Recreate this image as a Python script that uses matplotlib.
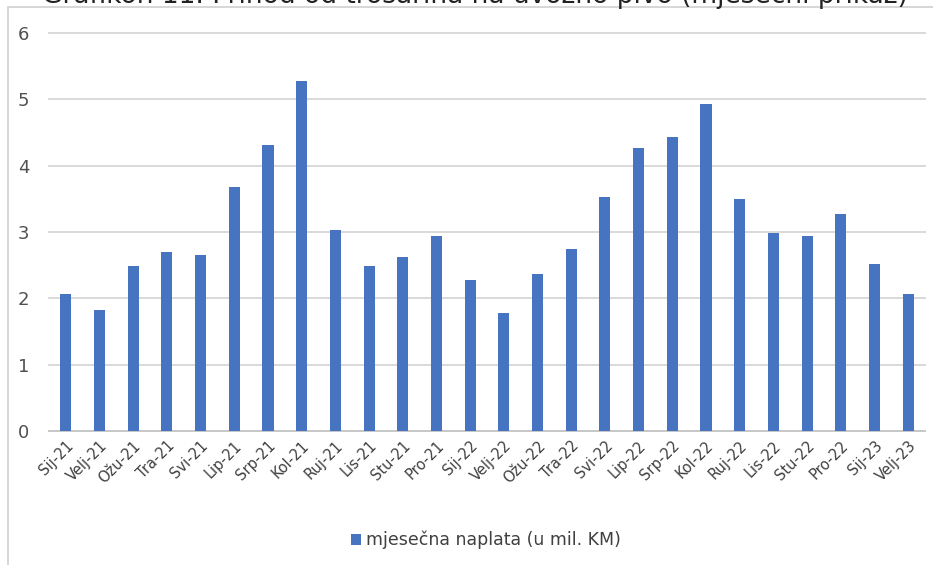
import matplotlib
matplotlib.use("Agg")
import matplotlib.pyplot as plt
from matplotlib.patches import Rectangle, Patch

categories = ["Sij-21", "Velj-21", "Ožu-21", "Tra-21", "Svi-21", "Lip-21", "Srp-21", "Kol-21",
              "Ruj-21", "Lis-21", "Stu-21", "Pro-21", "Sij-22", "Velj-22", "Ožu-22", "Tra-22",
              "Svi-22", "Lip-22", "Srp-22", "Kol-22", "Ruj-22", "Lis-22", "Stu-22", "Pro-22",
              "Sij-23", "Velj-23"]
values = [2.07, 1.83, 2.49, 2.70, 2.65, 3.68, 4.31, 5.28,
          3.03, 2.49, 2.62, 2.94, 2.28, 1.78, 2.37, 2.74,
          3.53, 4.27, 4.43, 4.93, 3.50, 2.99, 2.94, 3.27,
          2.52, 2.07]
series_name = "mjesečna naplata (u mil. KM)"
title = "Grafikon 11. Prihod od trošarina na uvozno pivo (mjesečni prikaz)"
yticks = [0, 1, 2, 3, 4, 5, 6]

W, H = 933, 565
fig = plt.figure(figsize=(W / 100, H / 100), dpi=100)
fig.patch.set_facecolor("white")

# outer chart frame (cropped screenshot)
fig.patches.append(Rectangle((8 / W, -0.1), 1.2, 1 - 7 / H + 0.1, transform=fig.transFigure,
                             facecolor="none", edgecolor="#D0D0D0", linewidth=1.2))
fig.text(475 / W, 1 - 3 / H, title, ha="center", va="baseline", fontsize=19,
         color="#222222")

ax = fig.add_axes([49 / W, 1 - 431 / H, (925 - 49) / W, (431 - 33) / H])
ax.set_facecolor("white")
x = list(range(len(categories)))
ax.bar(x, values, width=0.33, color="#4674C0", zorder=3)
ax.set_xlim(-0.5, len(categories) - 0.5)
ax.set_ylim(0, 6)
ax.set_yticks(yticks)
ax.set_yticklabels([str(t) for t in yticks], fontsize=13, color="#505050")
ax.yaxis.grid(True, color="#D9D9D9", linewidth=1.4, zorder=0)
for gl in ax.get_ygridlines():
    gl.set_clip_on(False)
ax.set_axisbelow(True)
for s in ["top", "right", "left"]:
    ax.spines[s].set_visible(False)
ax.spines["bottom"].set_color("#C8C8C8")
ax.spines["bottom"].set_linewidth(1.4)
ax.tick_params(axis="y", length=0, pad=14)
ax.tick_params(axis="x", length=0, pad=5)
ax.set_xticks(x)
ax.set_xticklabels(categories, rotation=45, ha="right", rotation_mode="anchor",
                   fontsize=10.5, color="#404040")

leg = fig.legend([Patch(facecolor="#4674C0")], [series_name], loc="center",
                 bbox_to_anchor=(486 / W, 1 - 540 / H), frameon=False, fontsize=12.5,
                 handlelength=0.6, handleheight=0.6, handletextpad=0.3)
for t in leg.get_texts():
    t.set_color("#404040")

fig.savefig("out.png", dpi=100, facecolor="white")
